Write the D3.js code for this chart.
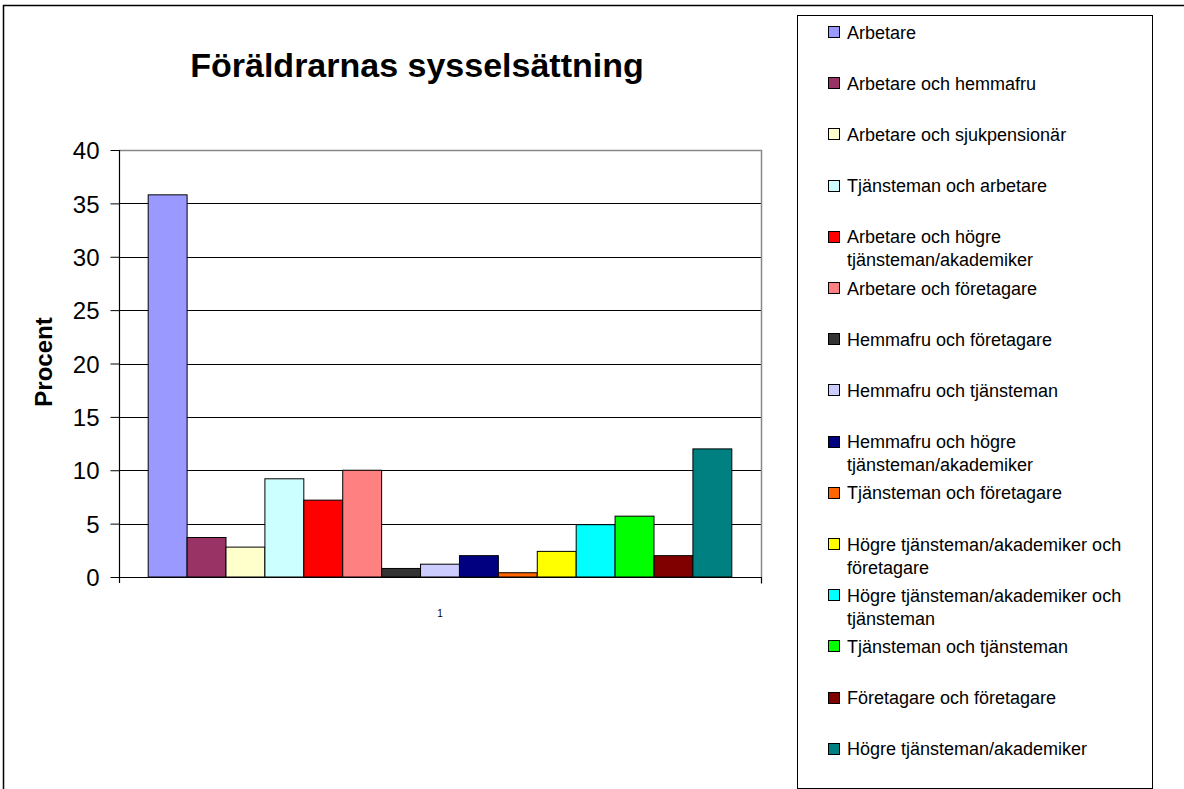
<!DOCTYPE html>
<html>
<head>
<meta charset="utf-8">
<script src="https://cdn.jsdelivr.net/npm/d3@7"></script>
<style>
  html, body { margin: 0; padding: 0; background: #fff; }
  svg { display: block; font-family: Arial, "Liberation Sans", sans-serif; }
</style>
</head>
<body>
<svg id="chart" width="1184" height="789"></svg>
<script>
const title = "Föräldrarnas sysselsättning";
const yAxisTitle = "Procent";
const categories = ["1"];
const seriesNames = [
  "Arbetare",
  "Arbetare och hemmafru",
  "Arbetare och sjukpensionär",
  "Tjänsteman och arbetare",
  "Arbetare och högre tjänsteman/akademiker",
  "Arbetare och företagare",
  "Hemmafru och företagare",
  "Hemmafru och tjänsteman",
  "Hemmafru och högre tjänsteman/akademiker",
  "Tjänsteman och företagare",
  "Högre tjänsteman/akademiker och företagare",
  "Högre tjänsteman/akademiker och tjänsteman",
  "Tjänsteman och tjänsteman",
  "Företagare och företagare",
  "Högre tjänsteman/akademiker"
];
const seriesValues = [35.8, 3.7, 2.8, 9.2, 7.2, 10.0, 0.8, 1.2, 2.0, 0.4, 2.4, 4.9, 5.7, 2.0, 12.0];
const seriesColors = ["#9999FF", "#993366", "#FFFFCC", "#CCFFFF", "#FF0000", "#FF8080", "#333333", "#CCCCFF",
                      "#000080", "#FF6600", "#FFFF00", "#00FFFF", "#00FF00", "#800000", "#008080"];
const yTicks = [0, 5, 10, 15, 20, 25, 30, 35, 40];

const svg = d3.select("#chart");

// outer chart border
svg.append("rect").attr("x", 3.5).attr("y", 5.5).attr("width", 1300).attr("height", 900)
  .attr("fill", "none").attr("stroke", "#000").attr("stroke-width", 1.5);

const plot = {left: 119, right: 761, top: 150, bottom: 577};

const y = d3.scaleLinear().domain([0, 40]).range([plot.bottom, plot.top]);
const xOuter = d3.scaleBand().domain(categories).range([plot.left, plot.right]).padding(0);
const xInner = d3.scaleBand().domain(seriesNames).range([0, xOuter.bandwidth()])
  .paddingInner(0).paddingOuter(0.75);

// gridlines
svg.append("g").selectAll("line").data(yTicks.filter(t => t > 0)).join("line")
  .attr("x1", plot.left).attr("x2", plot.right)
  .attr("y1", d => Math.round(y(d)) + 0.5).attr("y2", d => Math.round(y(d)) + 0.5)
  .attr("stroke", "#000").attr("stroke-width", 1);

// plot area border (right and top in gray)
svg.append("path")
  .attr("d", `M${plot.left},${Math.round(plot.top)+0.5}H${plot.right+0.5}V${plot.bottom}`)
  .attr("fill", "none").attr("stroke", "#888").attr("stroke-width", 1.5);

// bars
svg.append("g").selectAll("rect").data(seriesNames).join("rect")
  .attr("x", (d) => xOuter("1") + xInner(d))
  .attr("width", xInner.bandwidth())
  .attr("y", (d, i) => y(seriesValues[i]))
  .attr("height", (d, i) => y(0) - y(seriesValues[i]))
  .attr("fill", (d, i) => seriesColors[i])
  .attr("stroke", "#000").attr("stroke-width", 1);

// y axis
const yAxis = d3.axisLeft(y).tickValues(yTicks).tickSize(9).tickPadding(11).tickFormat(d3.format("d"));
const gy = svg.append("g").attr("transform", `translate(${plot.left + 0.5},0)`).call(yAxis);
gy.select(".domain").attr("d", `M0,${plot.top}V${plot.bottom + 6}`).attr("stroke", "#000").attr("stroke-width", 1.2);
gy.selectAll(".tick line").attr("stroke", "#000");
gy.selectAll(".tick text").attr("font-size", 24).attr("fill", "#000")
  .attr("font-family", "Arial, 'Liberation Sans', sans-serif").attr("dy", "0.36em");

// x axis
const xAxis = d3.axisBottom(xOuter).tickSize(0).tickPadding(32);
const gx = svg.append("g").attr("transform", `translate(0,${plot.bottom + 0.5})`).call(xAxis);
gx.select(".domain").attr("d", `M${plot.left},0H${plot.right + 0.5}V6`).attr("stroke", "#000").attr("stroke-width", 1.2);
gx.selectAll(".tick text").attr("font-size", 10).attr("fill", "#000")
  .attr("font-family", "Arial, 'Liberation Sans', sans-serif");

// title
svg.append("text").attr("x", 417).attr("y", 77).attr("text-anchor", "middle")
  .attr("font-size", 34).attr("font-weight", "bold").text(title);

// y axis title
svg.append("text").attr("transform", "translate(52,362) rotate(-90)").attr("text-anchor", "middle")
  .attr("font-size", 24).attr("font-weight", "bold").text(yAxisTitle);

// legend
const legend = {x: 797, y: 15, w: 355, h: 773};
svg.append("rect").attr("x", legend.x + 0.5).attr("y", legend.y + 0.5)
  .attr("width", legend.w).attr("height", legend.h)
  .attr("fill", "#fff").attr("stroke", "#000").attr("stroke-width", 1);

const itemStep = 51.2, firstCenter = 32, lineH = 23, maxW = 290;
const lg = svg.append("g");
seriesNames.forEach((name, i) => {
  const cy = firstCenter + i * itemStep;
  lg.append("rect").attr("x", 828.5).attr("y", Math.round(cy - 6) + 0.5)
    .attr("width", 11).attr("height", 11)
    .attr("fill", seriesColors[i]).attr("stroke", "#000").attr("stroke-width", 1);
  const t = lg.append("text").attr("x", 847).attr("y", cy + 6.5).attr("font-size", 18).attr("fill", "#000");
  const words = name.split(" ");
  let line = [], ts = t.append("tspan").attr("x", 847).attr("dy", 0), lineNo = 0;
  words.forEach(w => {
    line.push(w);
    ts.text(line.join(" "));
    if (ts.node().getComputedTextLength() > maxW && line.length > 1) {
      line.pop();
      ts.text(line.join(" "));
      line = [w];
      lineNo++;
      ts = t.append("tspan").attr("x", 847).attr("dy", lineH).text(w);
    }
  });
});
</script>
</body>
</html>
